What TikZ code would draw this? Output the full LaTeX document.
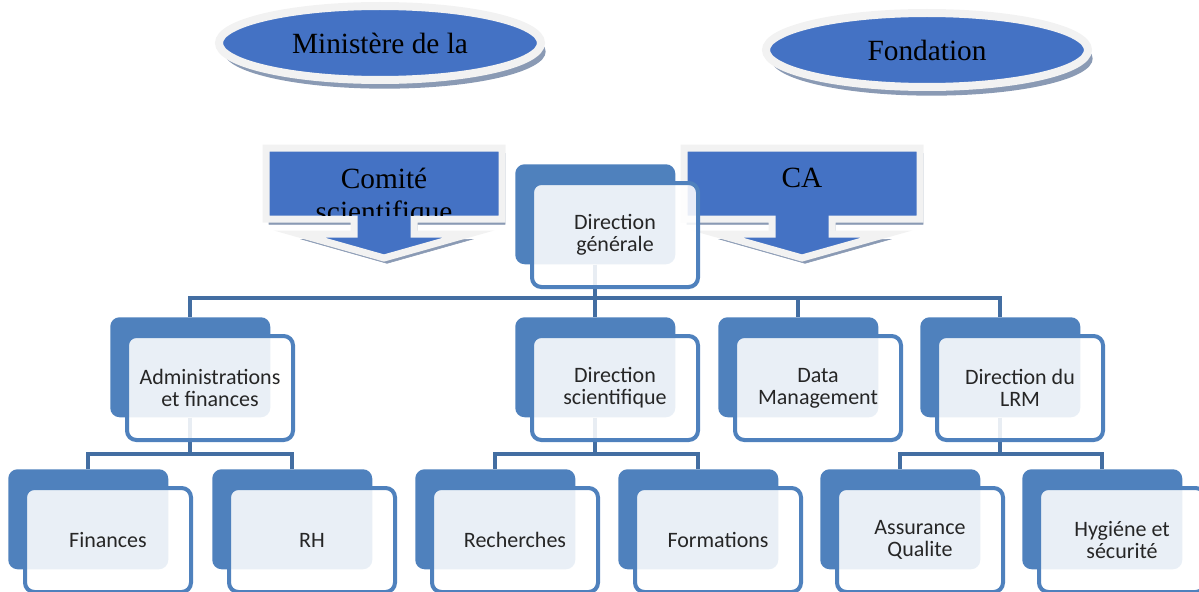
\documentclass[tikz,border=0pt]{standalone}
\usepackage{fontspec}
\setmainfont{Liberation Serif}
\newfontfamily\boxfont{Carlito}
\usetikzlibrary{calc,shapes.geometric,shadows}
\definecolor{boxblue}{HTML}{4F81BD}
\definecolor{linkblue}{HTML}{436EA2}
\definecolor{ovalblue}{HTML}{4472C4}
\definecolor{rim}{HTML}{F2F2F2}
\definecolor{shade}{HTML}{8A9AB4}

\begin{document}
\begin{tikzpicture}[x=.75pt,y=-.75pt,
  back/.style={fill=boxblue,rounded corners=7pt,minimum width=120pt,minimum height=75pt,anchor=north west,inner sep=0pt},
  front/.style={draw=boxblue,line width=3pt,fill=white,fill opacity=.88,text opacity=1,rounded corners=7pt,
    minimum width=124.5pt,minimum height=78pt,anchor=north west,align=center,
    font=\boxfont\fontsize{16.5}{16.5}\selectfont,text=black!85},
  link/.style={draw=linkblue,line width=3pt},
  oval/.style={ellipse,fill=ovalblue,draw=rim,line width=6pt,minimum width=241.5pt,minimum height=55.5pt,
    font=\fontsize{22}{25}\selectfont,drop shadow={shadow xshift=3.5pt,shadow yshift=-6.5pt,fill=shade,opacity=1}},
  callout/.style={fill=ovalblue,draw=rim,line width=5.25pt,
    preaction={draw=shade,fill=shade,transform canvas={xshift=2.25pt,yshift=-4pt}}}]
\useasboundingbox (0,0) rectangle (1199,592);

% top ovals
\node[oval] (min) at (380,43) {Ministère de la};
\node[oval] (fond) at (927,50) {Fondation};

% arrow callouts
\foreach \cx/\nm/\txt in {384/cs/{Comité\\scientifique},802/ca/CA}{
  \draw[callout] (\cx-118,148) -- (\cx+118,148) -- (\cx+118,219) -- (\cx+30,219) -- (\cx+30,234)
    -- (\cx+85,234) -- (\cx,258) -- (\cx-85,234) -- (\cx-30,234) -- (\cx-30,219) -- (\cx-118,219) -- cycle;
  \begin{scope}
    \clip (\cx-115,151) rectangle (\cx+115,215.5);
    \node[anchor=north,inner sep=0pt,align=center,font=\fontsize{22}{25}\selectfont] (\nm) at (\cx,168) {\txt};
  \end{scope}
}

% back boxes
\foreach \nm/\x/\y in {dg/515/164,adm/110/317,dsc/515/317,data/718/317,lrm/920/317,
  fin/8/469,rh/212/469,rech/415/469,form/618/469,aq/820/469,hyg/1022/469}
  \node[back] (\nm) at (\x,\y) {};

% connectors
\foreach \c in {adm,dsc,data,lrm} \draw[link] (dg.south) -- ++(0,33) -| (\c.north);
\foreach \p/\a/\b in {adm/fin/rh,dsc/rech/form,lrm/aq/hyg}{
  \draw[link] (\p.south) -- ++(0,36) -| (\a.north);
  \draw[link] (\p.south) -- ++(0,36) -| (\b.north);
}

% front boxes
\foreach \nm/\txt in {dg/{Direction\\générale},adm/{Administrations\\et finances},
  dsc/{Direction\\scientifique},data/{Data\\Management},lrm/{Direction du\\LRM},
  fin/Finances,rh/RH,rech/Recherches,form/Formations,aq/{Assurance\\Qualite},hyg/{Hygiéne et\\sécurité}}
  \node[front] (\nm-f) at ($(\nm.north west)+(15,17)$) {\txt};
\end{tikzpicture}
\end{document}
